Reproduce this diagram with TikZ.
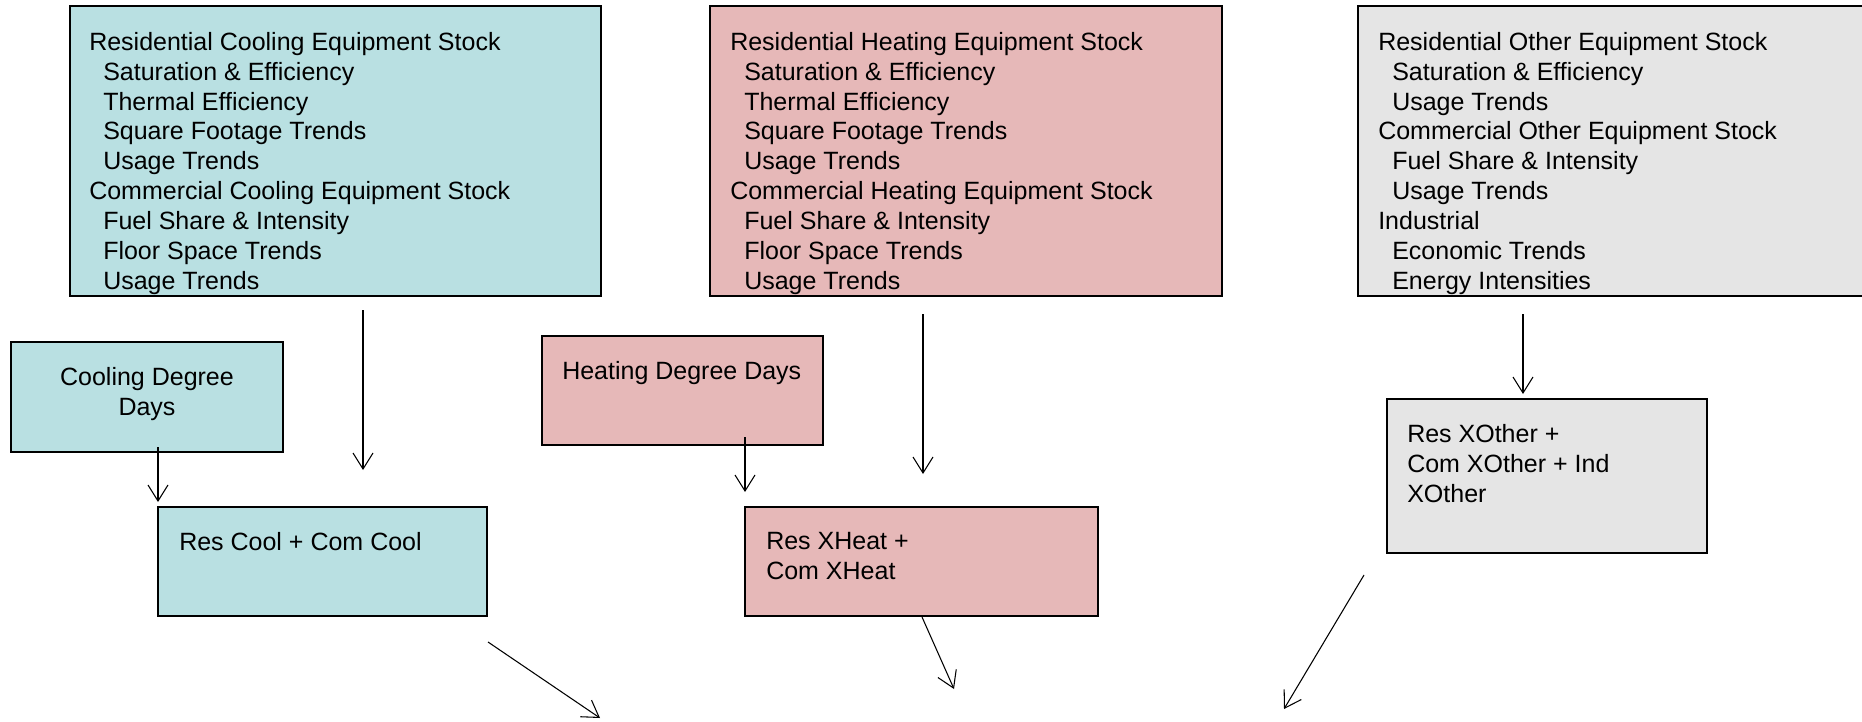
\documentclass[tikz,border=0pt]{standalone}
\usepackage{fontspec}
\setmainfont{Liberation Sans}
\usetikzlibrary{arrows.meta,fit}
\definecolor{coolfill}{RGB}{185,224,226}
\definecolor{heatfill}{RGB}{230,184,184}
\definecolor{othfill}{RGB}{229,229,229}
\newcommand{\ind}{\hspace*{10.5pt}}

\begin{document}
\begin{tikzpicture}[x=0.75pt,y=0.75pt,yscale=-1,xscale=1,
  box/.style={draw=black, line width=1pt, inner sep=0pt},
  coolbox/.style={box, fill=coolfill},
  heatbox/.style={box, fill=heatfill},
  othbox/.style={box, fill=othfill},
  txt/.style={anchor=north west, align=left, inner sep=0pt, font=\fontsize{18.75}{22.4}\selectfont},
  arr/.style={line width=0.8pt, -{Straight Barb[length=12pt,width=15pt,line width=0.8pt]}}]
\useasboundingbox (0,0) rectangle (1862,721);

%Shape: Rectangle (stock boxes)
\node [coolbox, fit={(70,6) (601,296)}] (coolstock) {};
\node [heatbox, fit={(710,6) (1222,296)}] (heatstock) {};
\node [othbox, fit={(1358,6) (1880,296)}] (othstock) {};
%Shape: Rectangle (degree days)
\node [coolbox, fit={(11,342) (283,452)}] (cdd) {};
\node [heatbox, fit={(542,336) (823,445)}] (hdd) {};
%Shape: Rectangle (sums)
\node [coolbox, fit={(158,507) (487,616)}] (coolsum) {};
\node [heatbox, fit={(745,507) (1098,616)}] (heatsum) {};
\node [othbox, fit={(1387,399) (1707,553)}] (othsum) {};

% Text Node
\node [txt] (cooltxt) at (89,32) {Residential Cooling Equipment Stock\\\ind Saturation \& Efficiency\\\ind Thermal Efficiency\\\ind Square Footage Trends\\\ind Usage Trends\\Commercial Cooling Equipment Stock\\\ind Fuel Share \& Intensity\\\ind Floor Space Trends\\\ind Usage Trends};
% Text Node
\node [txt] (heattxt) at (730,32) {Residential Heating Equipment Stock\\\ind Saturation \& Efficiency\\\ind Thermal Efficiency\\\ind Square Footage Trends\\\ind Usage Trends\\Commercial Heating Equipment Stock\\\ind Fuel Share \& Intensity\\\ind Floor Space Trends\\\ind Usage Trends};
% Text Node
\node [txt] (othtxt) at (1378,32) {Residential Other Equipment Stock\\\ind Saturation \& Efficiency\\\ind Usage Trends\\Commercial Other Equipment Stock\\\ind Fuel Share \& Intensity\\\ind Usage Trends\\Industrial\\\ind Economic Trends\\\ind Energy Intensities};
% Text Node
\node [txt, anchor=north, align=center] (cddtxt) at (147,367) {Cooling Degree\\Days};
% Text Node
\node [txt] (hddtxt) at (562,361) {Heating Degree Days};
% Text Node
\node [txt] (coolsumtxt) at (179,532) {Res Cool + Com Cool};
% Text Node
\node [txt] (heatsumtxt) at (766,532) {Res XHeat +\\Com XHeat};
% Text Node
\node [txt] (othsumtxt) at (1407,424) {Res XOther +\\Com XOther + Ind\\XOther};

%Straight Lines (arrow ends)
\coordinate (a1) at (363,310);   \coordinate (b1) at (363,470);
\coordinate (a2) at (158,447);   \coordinate (b2) at (158,502);
\coordinate (a3) at (923,314);   \coordinate (b3) at (923,474);
\coordinate (a4) at (745,437);   \coordinate (b4) at (745,492);
\coordinate (a5) at (1523,314);  \coordinate (b5) at (1523,394);
\coordinate (d1) at (488,642);   \coordinate (e1) at (600,718);
\coordinate (d2) at (922,617);   \coordinate (e2) at (954,689);
\coordinate (d3) at (1364,575);  \coordinate (e3) at (1284,709);

\draw [arr] (a1) -- (b1);
\draw [arr] (a2) -- (b2);
\draw [arr] (a3) -- (b3);
\draw [arr] (a4) -- (b4);
\draw [arr] (a5) -- (b5);
\draw [arr] (d1) -- (e1);
\draw [arr] (d2) -- (e2);
\draw [arr] (d3) -- (e3);
\end{tikzpicture}
\end{document}
